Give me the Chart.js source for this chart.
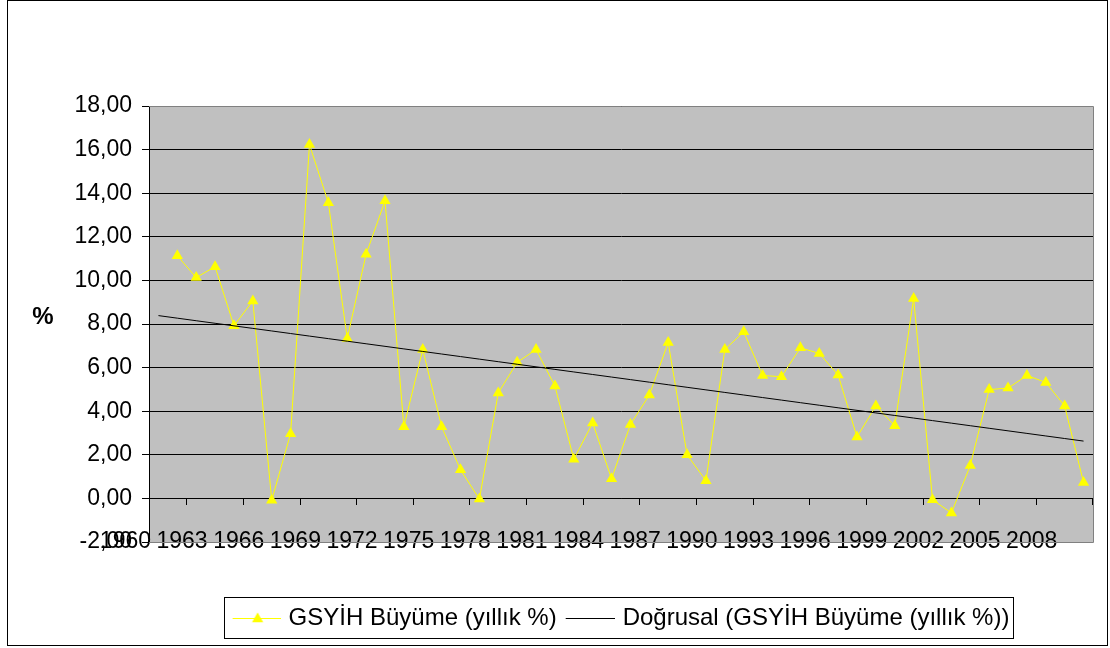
<!DOCTYPE html>
<html>
<head>
<meta charset="utf-8">
<script src="https://cdn.jsdelivr.net/npm/chart.js@4/dist/chart.umd.min.js"></script>
<style>
html, body { margin: 0; background: #fff; }
#wrap { width: 1110px; height: 648px; }
</style>
</head>
<body>
<div id="wrap"><canvas id="growthChart"></canvas></div>
<script>
var years = [1960, 1961, 1962, 1963, 1964, 1965, 1966, 1967, 1968, 1969,
             1970, 1971, 1972, 1973, 1974, 1975, 1976, 1977, 1978, 1979,
             1980, 1981, 1982, 1983, 1984, 1985, 1986, 1987, 1988, 1989,
             1990, 1991, 1992, 1993, 1994, 1995, 1996, 1997, 1998, 1999,
             2000, 2001, 2002, 2003, 2004, 2005, 2006, 2007, 2008, 2009];

var growth = [null, 11.13, 10.13, 10.63, 7.92, 9.06, -0.08, 2.97, 16.23, 13.56,
              7.34, 11.2, 13.65, 3.29, 6.83, 3.29, 1.31, -0.03, 4.84, 6.24,
              6.83, 5.16, 1.8, 3.46, 0.9, 3.39, 4.74, 7.15, 2.0, 0.81,
              6.83, 7.64, 5.64, 5.58, 6.91, 6.65, 5.66, 2.82, 4.24, 3.33,
              9.17, -0.06, -0.67, 1.51, 4.99, 5.06, 5.64, 5.32, 4.24, 0.73];

var tickYears = [1960, 1963, 1966, 1969, 1972, 1975, 1978, 1981, 1984,
                 1987, 1990, 1993, 1996, 1999, 2002, 2005, 2008];

var seriesName = 'GSYİH Büyüme (yıllık %)';
var trendName = 'Doğrusal (GSYİH Büyüme (yıllık %))';

// linear trend over category index, like the spreadsheet trendline
function linearTrend(vals) {
    var n = 0, sx = 0, sy = 0, sxx = 0, sxy = 0;
    vals.forEach(function(v, i) {
        if (v === null) return;
        n++; sx += i; sy += v; sxx += i * i; sxy += i * v;
    });
    var slope = (n * sxy - sx * sy) / (n * sxx - sx * sx);
    var icpt = (sy - slope * sx) / n;
    return vals.map(function(v, i) { return icpt + slope * i; });
}

function markCanvas(kind) {
    var c = document.createElement('canvas');
    c.width = 52; c.height = 14;
    var g = c.getContext('2d');
    if (kind === 'series') {
        g.strokeStyle = '#ffff00';
        g.lineWidth = 1;
        g.beginPath(); g.moveTo(4, 7.5); g.lineTo(52, 7.5); g.stroke();
        g.fillStyle = '#ffff00';
        g.beginPath(); g.moveTo(29, 1.5); g.lineTo(34.6, 11.3); g.lineTo(23.4, 11.3); g.closePath(); g.fill();
    } else {
        g.strokeStyle = '#000';
        g.lineWidth = 1;
        g.beginPath(); g.moveTo(3, 7.5); g.lineTo(52, 7.5); g.stroke();
    }
    return c;
}

Chart.defaults.font.family = "'Liberation Sans', Arial, sans-serif";
Chart.defaults.color = '#000';

var framePlugin = {
    id: 'frame',
    beforeDraw: function(chart) {
        var ctx = chart.ctx, a = chart.chartArea;
        ctx.save();
        ctx.fillStyle = '#fff';
        ctx.fillRect(0, 0, chart.width, chart.height);
        ctx.fillStyle = '#c0c0c0';
        ctx.fillRect(a.left, a.top, a.right - a.left, a.bottom - a.top);
        ctx.strokeStyle = '#000';
        ctx.lineWidth = 1;
        ctx.strokeRect(7.5, 0.5, 1100, 645);
        ctx.restore();
    },
    beforeDatasetsDraw: function(chart) {
        var ctx = chart.ctx, a = chart.chartArea;
        ctx.save();
        ctx.strokeStyle = '#808080';
        ctx.lineWidth = 1;
        ctx.beginPath();
        ctx.moveTo(a.left, Math.round(a.top) + 0.5);
        ctx.lineTo(Math.round(a.right) + 0.5, Math.round(a.top) + 0.5);
        ctx.lineTo(Math.round(a.right) + 0.5, Math.round(a.bottom) + 0.5);
        ctx.lineTo(a.left, Math.round(a.bottom) + 0.5);
        ctx.stroke();
        ctx.restore();
    },
    afterDraw: function(chart) {
        var ctx = chart.ctx, lg = chart.legend;
        ctx.save();
        var hb = lg.legendHitBoxes;
        if (hb && hb.length) {
            var last = hb[hb.length - 1];
            var l = Math.round(hb[0].left - 9) + 0.5;
            var r = Math.round(last.left + last.width + 4) + 0.5;
            ctx.strokeStyle = '#000';
            ctx.lineWidth = 1;
            ctx.strokeRect(l, Math.round(lg.top) + 1.5, r - l, lg.bottom - lg.top - 3);
        }
        ctx.fillStyle = '#000';
        ctx.font = "bold 24px 'Liberation Sans', Arial, sans-serif";
        ctx.textAlign = 'center';
        ctx.textBaseline = 'alphabetic';
        ctx.fillText('%', 43, 324);
        ctx.restore();
    }
};

var ctx = document.getElementById('growthChart').getContext('2d');
var growthChart = new Chart(ctx, {
    type: 'line',
    data: {
        labels: years,
        datasets: [{
            label: seriesName,
            data: growth,
            order: 2,
            borderColor: '#ffff00',
            backgroundColor: '#ffff00',
            borderWidth: 1,
            pointStyle: 'triangle',
            pointRadius: 6.5,
            pointBackgroundColor: '#ffff00',
            pointBorderColor: '#ffff00',
            pointBorderWidth: 0,
            tension: 0
        }, {
            label: trendName,
            data: linearTrend(growth),
            order: 1,
            borderColor: '#000',
            borderWidth: 1,
            pointRadius: 0,
            tension: 0
        }]
    },
    options: {
        responsive: true,
        maintainAspectRatio: false,
        animation: false,
        layout: { padding: { left: 0, right: 17, top: 106, bottom: 8 } },
        scales: {
            x: {
                position: { y: 0 },
                offset: true,
                afterFit: function(s) { s.paddingLeft = 0; s.paddingRight = 0; },
                border: { color: '#000' },
                grid: { drawOnChartArea: false, offset: true, color: '#000', tickLength: 6 },
                ticks: {
                    autoSkip: false,
                    maxRotation: 0,
                    minRotation: 0,
                    color: '#000',
                    font: { size: 23 },
                    padding: 23,
                    labelOffset: -33,
                    callback: function(v, i) {
                        var yr = years[i];
                        return tickYears.indexOf(yr) >= 0 ? String(yr) : null;
                    }
                }
            },
            // empty band between plot and legend
            gap: {
                type: 'category',
                axis: 'x',
                position: 'bottom',
                afterFit: function(s) { s.height = 54; s.paddingLeft = 0; s.paddingRight = 0; },
                grid: { display: false, drawTicks: false },
                border: { display: false },
                ticks: { display: false }
            },
            y: {
                min: -2,
                max: 18,
                afterFit: function(s) { s.width = 149; },
                border: { color: '#000' },
                grid: { color: '#000', tickLength: 7 },
                ticks: {
                    stepSize: 2,
                    color: '#000',
                    font: { size: 23 },
                    padding: 10,
                    callback: function(v) { return v.toFixed(2).replace('.', ','); }
                }
            }
        },
        plugins: {
            tooltip: { enabled: false },
            legend: {
                position: 'bottom',
                fullSize: false,
                labels: {
                    font: { size: 24 },
                    color: '#000',
                    padding: 10,
                    usePointStyle: true,
                    pointStyleWidth: 44,
                    generateLabels: function() {
                        return [
                            { text: seriesName, pointStyle: markCanvas('series'), fillStyle: '#ffff00', strokeStyle: '#ffff00', lineWidth: 0, hidden: false, datasetIndex: 0, fontColor: '#000' },
                            { text: trendName, pointStyle: markCanvas('trend'), fillStyle: '#000', strokeStyle: '#000', lineWidth: 0, hidden: false, datasetIndex: 1, fontColor: '#000' }
                        ];
                    }
                }
            }
        }
    },
    plugins: [framePlugin]
});
</script>
</body>
</html>
